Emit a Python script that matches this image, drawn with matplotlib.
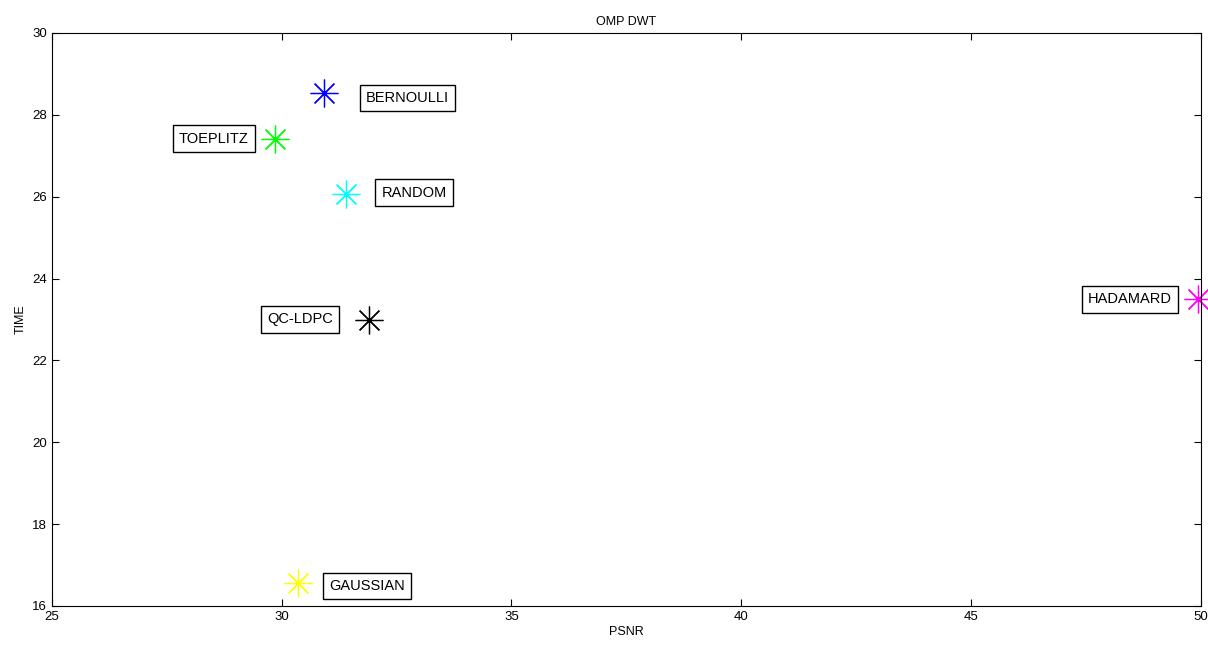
import matplotlib
matplotlib.use('Agg')
import matplotlib.pyplot as plt

plt.rcParams['font.family'] = ['Liberation Sans', 'DejaVu Sans']

# datos
names = ['BERNOULLI', 'TOEPLITZ', 'RANDOM', 'QC-LDPC', 'HADAMARD', 'GAUSSIAN']
psnr = [30.93, 29.85, 31.39, 31.9, 49.95, 30.35]
time = [28.54, 27.42, 26.06, 22.98, 23.49, 16.55]
colors = ['#0000ff', '#00ff00', '#00ffff', '#000000', '#ff00ff', '#ffff00']
# posicion de las etiquetas
label_x = [32.74, 28.52, 32.88, 30.40, 48.46, 31.85]
label_y = [28.41, 27.42, 26.10, 23.0, 23.49, 16.49]

fig = plt.figure(figsize=(12.08, 6.46), dpi=100)
ax = fig.add_axes([0.043, 0.062, 0.951, 0.887])

for i in range(len(names)):
    ax.plot(psnr[i], time[i], linestyle='none', marker=(8, 2, 0),
            markersize=20, markeredgewidth=0.9, color=colors[i], clip_on=False)
    ax.text(label_x[i], label_y[i], names[i], ha='center', va='center', fontsize=10.5,
            bbox=dict(boxstyle='square,pad=0.42', facecolor='white', edgecolor='black', linewidth=1))

ax.set_xlim(25, 50)
ax.set_ylim(16, 30)
ax.set_xticks([25, 30, 35, 40, 45, 50])
ax.set_yticks([16, 18, 20, 22, 24, 26, 28, 30])
ax.tick_params(direction='in', top=True, right=True, labelsize=9.5, length=5)
ax.set_xlabel('PSNR', fontsize=9, labelpad=2)
ax.set_ylabel('TIME', fontsize=9, labelpad=4)
ax.set_title('OMP DWT', fontsize=9, pad=6)

plt.savefig('out.png', dpi=100)
